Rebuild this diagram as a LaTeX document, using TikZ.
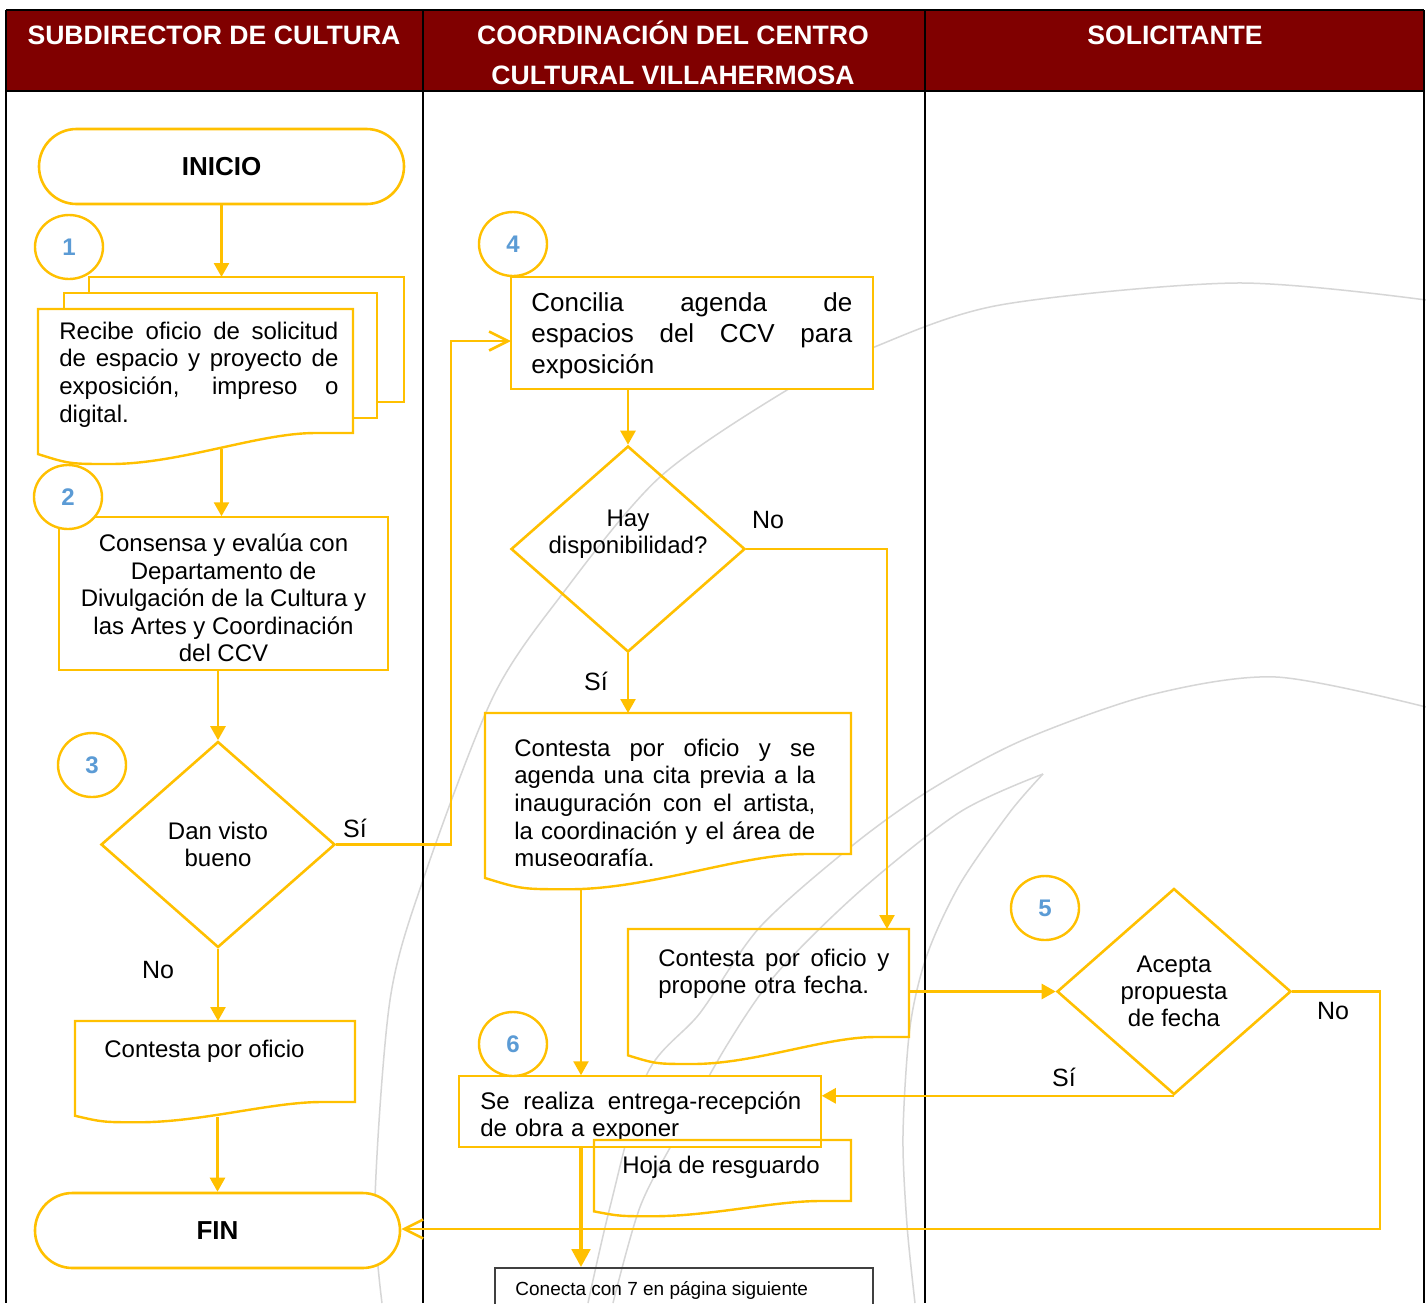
\documentclass[tikz,border=0pt]{standalone}
\usepackage{fontspec}
\setmainfont{Liberation Sans}
\usetikzlibrary{arrows.meta,shapes.geometric,shapes.misc}
\definecolor{gold}{HTML}{FFC000}
\definecolor{hdr}{HTML}{800000}
\definecolor{numblue}{HTML}{5B9BD5}
\definecolor{arcgray}{HTML}{D6D6D6}
\newcommand{\JL}[2]{\leavevmode\hbox to #1{\spaceskip=\fontdimen2\font plus 1fil\relax #2}}
\newcommand{\docshape}[5][]{%
  \draw[#1] (#2,#3) -- (#4,#3) -- (#4,#5) -- ({#4-0.12*(#4-#2)},#5)
    .. controls ({#4-0.3*(#4-#2)},#5) and ({#2+0.45*(#4-#2)},{#5+0.25*(#5-#3)}) .. ({#2+0.23*(#4-#2)},{#5+0.25*(#5-#3)})
    .. controls ({#2+0.1*(#4-#2)},{#5+0.25*(#5-#3)}) .. (#2,{#5+0.17*(#5-#3)}) -- cycle;}
\begin{document}
\begin{tikzpicture}[x=0.5pt,y=-0.5pt,
  conn/.style={draw=gold, line width=1.3pt, -{Triangle[length=7pt,width=7.5pt]}},
  openarr/.style={draw=gold, line width=1.3pt, -{Straight Barb[length=9.5pt,width=9.5pt]}},
  thickconn/.style={draw=gold, line width=2.4pt, -{Triangle[length=9pt,width=9pt]}},
  thinbox/.style={rectangle, draw=gold, line width=0.75pt, fill=white, inner sep=0pt},
  docline/.style={draw=gold, line width=1.2pt},
  term/.style={rounded rectangle, draw=gold, line width=1.3pt, fill=white, minimum width=182.5pt, minimum height=37.5pt, inner sep=0pt, font=\fontsize{13}{15}\selectfont\bfseries},
  decision/.style={diamond, draw=gold, line width=1.3pt, minimum width=117pt, minimum height=103pt, inner sep=0pt, align=center, font=\fontsize{12}{13.6}\selectfont},
  num/.style={ellipse, draw=gold, line width=1.2pt, fill=white, minimum width=34pt, minimum height=32pt, inner sep=0pt, text=numblue, font=\fontsize{12}{14}\selectfont\bfseries},
  txt/.style={inner sep=0pt, align=left, font=\fontsize{12}{13.85}\selectfont},
  lbl/.style={inner sep=0pt, font=\fontsize{12.5}{14}\selectfont},
  hdrtxt/.style={inner sep=0pt, text=white, font=\fontsize{13.3}{20}\selectfont\bfseries},
  arcline/.style={draw=arcgray, line width=0.75pt},
  colline/.style={draw=black, line width=1pt}
]
\useasboundingbox (0,0) rectangle (1426,1303);
\fill[white] (0,0) rectangle (1426,1303);

% background arcs
\draw[arcline] plot[smooth] coordinates {(382,1303) (375,1200) (390,1000) (423,880) (493,697) (563,593) (660,477) (787,390) (872,348) (1000,305) (1236,283) (1426,300)};
\draw[arcline] plot[smooth] coordinates {(1426,707) (1276,677) (1150,695) (1023,740) (930,790) (853,845) (760,927) (700,1013) (647,1074) (610,1207) (588,1303)};
\draw[arcline] plot[smooth] coordinates {(1043,774) (960,812) (860,891) (777,973) (727,1045) (677,1135) (640,1207) (613,1303)};
\draw[arcline] plot[smooth] coordinates {(1043,774) (1010,812) (960,884) (927,955) (910,1027) (903,1135) (907,1225) (915,1303)};

% header and lanes
\fill[hdr] (6,10) rectangle (1424,91);
\draw[colline] (6,10) -- (1424,10);
\draw[colline] (6,91) -- (1424,91);
\draw[colline] (6,10) -- (6,1303);
\draw[colline] (423,10) -- (423,1303);
\draw[colline] (925,10) -- (925,1303);
\draw[colline] (1424,10) -- (1424,1303);
\node[hdrtxt] (h1) at (214,35) {SUBDIRECTOR DE CULTURA};
\node[hdrtxt, align=center] (h2) at (673,53) {COORDINACIÓN DEL CENTRO\\CULTURAL VILLAHERMOSA};
\node[hdrtxt] (h3) at (1175,35) {SOLICITANTE};

% ---- column 1
\node[term] (inicio) at (221.5,166.5) {INICIO};
\fill[white] (89,277) rectangle (404,402);
\draw[docline] (89,293) -- (89,277) -- (404,277) -- (404,402) -- (377,402);
\fill[white] (64,293) rectangle (377,418);
\draw[docline] (64,309) -- (64,293) -- (377,293) -- (377,418) -- (353,418);
\docshape[docline, fill=white]{38}{309}{353}{433}
\node[txt, text width=139.5pt, anchor=base west] (t1) at (59,339) {\JL{139.5pt}{Recibe oficio de solicitud}\\\JL{139.5pt}{de espacio y proyecto de}\\\JL{139.5pt}{exposición, impreso o}\\digital.};
\coordinate (m1top) at (221.5,277);
\coordinate (m1bot) at (221.5,449);
\draw[conn] (inicio.south) -- (m1top);
\node[num] (n1) at (69,247) {1};

\node[thinbox, minimum width=164.5pt, minimum height=76.5pt] (b2) at (223.5,593.5) {};
\node[inner sep=0pt, align=center, font=\fontsize{12}{13.75}\selectfont] (t2) at (223.5,598) {Consensa y evalúa con\\Departamento de\\Divulgación de la Cultura y\\las Artes y Coordinación\\del CCV};
\draw[conn] (m1bot) -- (m1bot |- b2.north);
\node[num] (n2) at (68,497) {2};

\node[decision] (d3) at (218,844.5) {Dan visto\\bueno};
\draw[conn] (d3.north |- b2.south) -- (d3.north);
\node[num] (n3) at (92,765) {3};
\node[lbl] (lsi1) at (355,828) {Sí};
\coordinate (siturn) at (451,341);
\coordinate (b4in) at (511,341);
\draw[openarr] (d3.east) -| (siturn) -- (b4in);
\node[lbl] (lno1) at (158,970) {No};
\coordinate (c1top) at (218,1021);
\draw[conn] (d3.south) -- (c1top);
\docshape[docline, fill=white]{75}{1021}{355}{1102}
\node[txt, anchor=base west] (tc1) at (104,1057) {Contesta por oficio};
\coordinate (c1bot) at (217.5,1117);
\node[term] (fin) at (217.5,1230.5) {FIN};
\draw[conn] (c1bot) -- (fin.north);

% ---- column 2
\node[thinbox, minimum width=181pt, minimum height=56pt] (b4) at (692,333) {};
\node[txt, text width=160.5pt, font=\fontsize{13}{15.5}\selectfont, anchor=base west] (t4) at (531,311) {\JL{160.5pt}{Concilia agenda de}\\\JL{160.5pt}{espacios del CCV para}\\exposición};
\node[num] (n4) at (513,244) {4};

\node[decision] (hay) at (628,549) {};
\node[inner sep=0pt, align=center, font=\fontsize{12}{13.5}\selectfont] (thay) at (628,534.5) {Hay\\disponibilidad?};
\draw[conn] (hay.north |- b4.south) -- (hay.north);
\coordinate (propTop) at (887,929);
\draw[conn] (hay.east) -| (propTop);
\node[lbl] (lno2) at (768,520) {No};
\node[lbl] (lsi2) at (596,681) {Sí};
\coordinate (museoTop) at (628,713);
\draw[conn] (hay.south) -- (museoTop);

\docshape[docline, fill=white]{485}{713}{851}{854}
\begin{scope}
\clip (485,713) rectangle (851,865);
\node[txt, text width=150.5pt, anchor=base west] (t6) at (514,756) {\JL{150.5pt}{Contesta por oficio y se}\\\JL{150.5pt}{agenda una cita previa a la}\\\JL{150.5pt}{inauguración con el artista,}\\\JL{150.5pt}{la coordinación y el área de}\\museografía.};
\end{scope}

\docshape[docline]{628}{929}{909}{1037}
\node[txt, text width=115.5pt, anchor=base west] (t7) at (658,966) {\JL{115.5pt}{Contesta por oficio y}\\propone otra fecha.};

\coordinate (museoBot) at (581,888);
\node[thinbox, minimum width=181pt, minimum height=35.5pt] (sr) at (640,1111.5) {};
\node[txt, text width=160.5pt, anchor=base west] (t8) at (480,1109) {\JL{160.5pt}{Se realiza entrega-recepción}\\de obra a exponer};
\draw[conn] (museoBot) -- (museoBot |- sr.north);
\node[num] (n6) at (513,1044) {6};
\docshape[docline]{594}{1140}{851}{1201}
\node[txt] (t9) at (721,1167) {Hoja de resguardo};
\node[rectangle, draw=black!75, line width=0.8pt, minimum width=189pt, minimum height=36pt, inner sep=0pt] (con) at (684,1304) {};
\node[txt, font=\fontsize{9.5}{11}\selectfont, anchor=base west] (t10) at (515,1295) {Conecta con 7 en página siguiente};

% ---- column 3
\node[decision] (acepta) at (1174,991.5) {Acepta\\propuesta\\de fecha};
\node[num] (n5) at (1045,908) {5};
\coordinate (propR) at (909,991.5);
\draw[conn] (propR) -- (acepta.west);
\node[lbl] (lno3) at (1333,1011) {No};
\node[lbl] (lsi3) at (1064,1077) {Sí};
\coordinate (noturn) at (1380,1229);
\draw[openarr] (acepta.east) -| (noturn) -- (noturn -| fin.east);
\draw[conn] (acepta.south) -- (acepta.south -| sr.east);

\draw[thickconn] (museoBot |- sr.south) -- (museoBot |- con.north);
\end{tikzpicture}
\end{document}
